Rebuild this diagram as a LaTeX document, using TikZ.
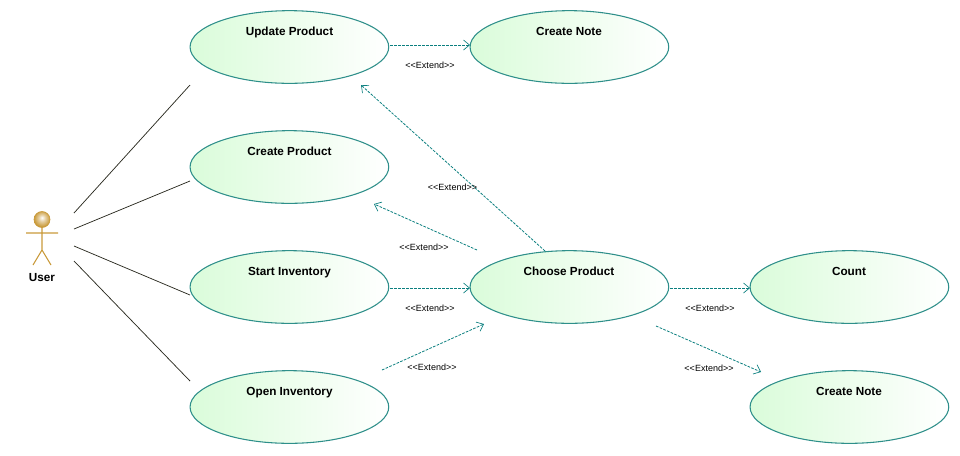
\documentclass[tikz,border=0pt]{standalone}
\usepackage{fontspec}
\setmainfont{Liberation Sans}
\usetikzlibrary{arrows.meta,shapes.geometric}
\definecolor{ucedge}{HTML}{2E8F8A}
\definecolor{ucfill}{HTML}{DAFCDA}
\definecolor{dep}{HTML}{0B7F7F}
\definecolor{actorc}{HTML}{C99A3A}
\definecolor{assoc}{HTML}{2A2A20}
\newcommand{\extlabel}{{<}{<}Extend{>}{>}}
\pgfdeclareradialshading[actorc]{actorball}{\pgfpoint{0bp}{6bp}}{
  color(0bp)=(white); color(10bp)=(actorc!45!white); color(25bp)=(actorc); color(50bp)=(actorc)}
\tikzset{
  ucase/.style={ellipse,draw=ucedge,line width=0.8pt,left color=ucfill,right color=white,
    minimum width=149pt,minimum height=54.5pt,inner sep=0pt,outer sep=0pt,xshift=0.3pt},
  uctext/.style={font=\fontsize{8.8}{10}\selectfont\bfseries,text=black,inner sep=0pt,anchor=base},
  ext/.style={font=\fontsize{6.75}{8}\selectfont,text=black,inner sep=0pt,anchor=base},
  extline/.style={draw=dep,line width=0.6pt,dash pattern=on 2pt off 1pt,
    -{Straight Barb[length=4.5pt,width=7.5pt,line width=0.5pt]}},
  assocline/.style={draw=assoc,line width=0.55pt},
  actorline/.style={draw=actorc,line width=0.8pt}
}
\begin{document}
\begin{tikzpicture}[x=0.75pt,y=-0.75pt]
\useasboundingbox (0,0) rectangle (960,455);
% use cases
\node[ucase] (up) at (289,47) {};
\node[uctext] (upt) at (289.5,35) {Update Product};
\node[ucase] (cn1) at (569,47) {};
\node[uctext] (cn1t) at (569,35) {Create Note};
\node[ucase] (cp) at (289,167) {};
\node[uctext] (cpt) at (289.5,155) {Create Product};
\node[ucase] (si) at (289,287) {};
\node[uctext] (sit) at (289.5,275) {Start Inventory};
\node[ucase] (ch) at (569,287) {};
\node[uctext] (cht) at (569,275) {Choose Product};
\node[ucase] (co) at (849,287) {};
\node[uctext] (cot) at (849,275) {Count};
\node[ucase] (oi) at (289,407) {};
\node[uctext] (oit) at (289.5,395) {Open Inventory};
\node[ucase] (cn2) at (849,407) {};
\node[uctext] (cn2t) at (849,395) {Create Note};
% actor
\coordinate (neck) at (42,227);
\coordinate (hip) at (42,250);
\coordinate (armL) at (26,233);
\coordinate (armR) at (58,233);
\coordinate (legL) at (33,265);
\coordinate (legR) at (51,265);
\draw[actorline] (neck) -- (hip) (armL) -- (armR) (legL) -- (hip) -- (legR);
\node[circle,minimum size=12pt,inner sep=0pt,draw=actorc,line width=0.5pt,
  shading=actorball] (head) at (42,219.5) {};
\node[uctext] (user) at (42,281.5) {User};
% associations
\coordinate (a1) at (74,213); \coordinate (b1) at (190,85);
\coordinate (a2) at (74,229); \coordinate (b2) at (190,181);
\coordinate (a3) at (74,246); \coordinate (b3) at (190,295);
\coordinate (a4) at (74,261); \coordinate (b4) at (190,381);
\draw[assocline] (a1) -- (b1);
\draw[assocline] (a2) -- (b2);
\draw[assocline] (a3) -- (b3);
\draw[assocline] (a4) -- (b4);
% extends
\coordinate (e1s) at (390,45); \coordinate (e1t) at (470,45);
\coordinate (e2s) at (545,251); \coordinate (e2t) at (361,85);
\coordinate (e3s) at (477,250); \coordinate (e3t) at (374,204);
\coordinate (e4s) at (390,288); \coordinate (e4t) at (470,288);
\coordinate (e5s) at (382,370); \coordinate (e5t) at (484,324);
\coordinate (e6s) at (670,288); \coordinate (e6t) at (750,288);
\coordinate (e7s) at (656,326); \coordinate (e7t) at (761,372);
\draw[extline] (e1s) -- (e1t);
\draw[extline] (e2s) -- (e2t);
\draw[extline] (e3s) -- (e3t);
\draw[extline] (e4s) -- (e4t);
\draw[extline] (e5s) -- (e5t);
\draw[extline] (e6s) -- (e6t);
\draw[extline] (e7s) -- (e7t);
\node[ext] (l1) at (430,68) {\extlabel};
\node[ext] (l2) at (452.5,190.5) {\extlabel};
\node[ext] (l3) at (424,250) {\extlabel};
\node[ext] (l4) at (430,311) {\extlabel};
\node[ext] (l5) at (432,370.5) {\extlabel};
\node[ext] (l6) at (710,311) {\extlabel};
\node[ext] (l7) at (709,371) {\extlabel};
\end{tikzpicture}
\end{document}
